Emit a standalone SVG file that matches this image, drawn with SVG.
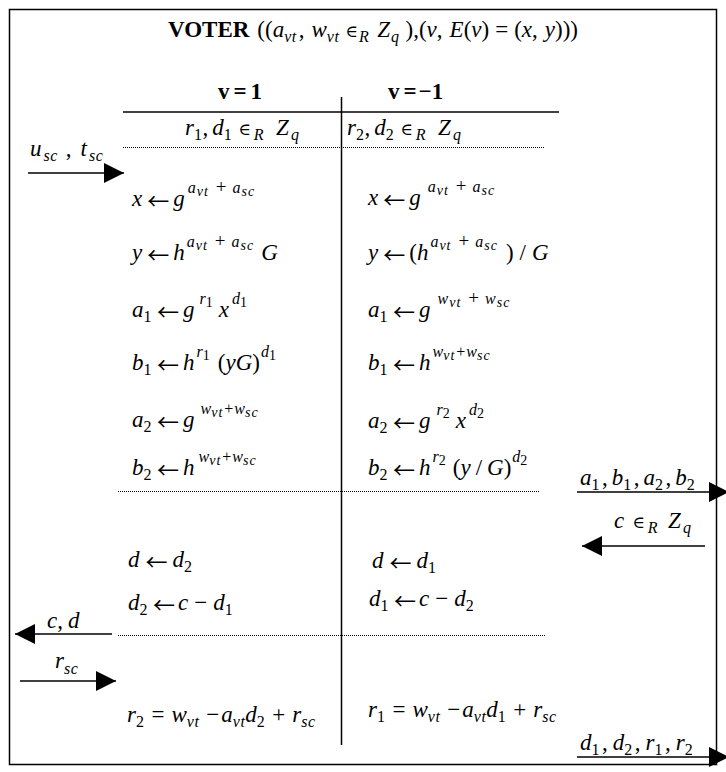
<svg xmlns="http://www.w3.org/2000/svg" width="726" height="772" viewBox="0 0 726 772">
<style>
.m{font-family:"Liberation Serif","Times New Roman",serif;font-size:23px;font-style:italic;fill:#000}
.u{font-style:normal}
.b{font-weight:bold;font-style:normal}
.sp{font-size:16px}
.sb{font-size:16px;letter-spacing:0.5px}
.ss{font-size:14px;letter-spacing:1px}
.op{font-size:19px;font-style:normal}
.a{font-family:"Noto Sans CJK JP","DejaVu Sans",sans-serif;font-style:normal;font-size:22px}
.e{font-family:"DejaVu Serif",serif;font-style:normal;font-size:17px}
.ln{stroke:#000;stroke-width:1.5;fill:none}
.dot{stroke:#000;stroke-width:1;stroke-dasharray:1 1;fill:none}
.ar{stroke:#000;stroke-width:1.5;fill:none;marker-end:url(#ah)}
</style>
<defs>
<marker id="ah" markerUnits="userSpaceOnUse" markerWidth="20" markerHeight="20" viewBox="0 0 20 20" refX="20" refY="10" orient="auto">
<path d="M0,0 L20,10 L0,20 Z" fill="#000"/>
</marker>
</defs>
<rect x="9.5" y="9.5" width="707" height="755" fill="#fff" stroke="#000" stroke-width="1.5"/>

<g id="title">
<text class="m" x="168" y="37"><tspan class="b">VOTER</tspan><tspan class="u" dx="8">((</tspan>a<tspan class="sb" dy="5">vt</tspan><tspan class="u" dx="2" dy="-5">,</tspan><tspan dx="7">w</tspan><tspan class="sb" dy="5">vt</tspan><tspan class="e" dx="6" dy="-5">∈</tspan><tspan class="sb" dx="1" dy="5">R</tspan><tspan dx="8" dy="-5">Z</tspan><tspan class="sb" dx="1" dy="5">q</tspan><tspan class="u" dx="6" dy="-5">),(</tspan>v<tspan class="u">,</tspan><tspan dx="7">E</tspan><tspan class="u">(</tspan>v<tspan class="u">)</tspan><tspan class="u" dx="6">=</tspan><tspan class="u" dx="6">(</tspan>x<tspan class="u">,</tspan><tspan dx="7">y</tspan><tspan class="u">)))</tspan></text>
</g>

<g id="table">
<line class="ln" x1="123" y1="112" x2="559" y2="112"/>
<line class="ln" x1="341.5" y1="97" x2="341.5" y2="745"/>
<line class="dot" x1="123" y1="147.5" x2="545" y2="147.5"/>
<line class="dot" x1="118" y1="491.5" x2="540" y2="491.5"/>
<line class="dot" x1="118" y1="635.5" x2="545" y2="635.5"/>
</g>

<g id="col-v1">
<text class="m b" x="218" y="99">v<tspan dx="4">=</tspan><tspan dx="4">1</tspan></text>
<text class="m" x="185" y="135">r<tspan class="sb u" dy="5">1</tspan><tspan class="u" dy="-5">,</tspan><tspan dx="4">d</tspan><tspan class="sb u" dy="5">1</tspan><tspan class="e" dx="6" dy="-5">∈</tspan><tspan class="sb" dx="3" dy="5">R</tspan><tspan dx="12" dy="-5">Z</tspan><tspan class="sb" dx="2" dy="5">q</tspan></text>
<text class="m" x="132" y="206">x<tspan class="a" dx="5" dy="3">←</tspan><tspan dx="4" dy="-3">g</tspan><tspan class="sp" dx="3" dy="-13">a</tspan><tspan class="ss" dx="1" dy="3">vt</tspan><tspan class="op" dx="7" dy="-3">+</tspan><tspan class="sp" dx="6">a</tspan><tspan class="ss" dx="1" dy="3">sc</tspan></text>
<text class="m" x="132" y="260">y<tspan class="a" dx="5" dy="3">←</tspan><tspan dx="4" dy="-3">h</tspan><tspan class="sp" dx="2" dy="-13">a</tspan><tspan class="ss" dx="1" dy="3">vt</tspan><tspan class="op" dx="7" dy="-3">+</tspan><tspan class="sp" dx="6">a</tspan><tspan class="ss" dx="1" dy="3">sc</tspan><tspan dx="7" dy="10">G</tspan></text>
<text class="m" x="132" y="317">a<tspan class="sb u" dy="5">1</tspan><tspan class="a" dx="5" dy="-2">←</tspan><tspan dx="4" dy="-3">g</tspan><tspan class="sp" dx="5" dy="-13">r</tspan><tspan class="ss u" dy="3">1</tspan><tspan dx="5" dy="10">x</tspan><tspan class="sp" dx="3" dy="-13">d</tspan><tspan class="ss u" dy="3">1</tspan></text>
<text class="m" x="132" y="370">b<tspan class="sb u" dy="5">1</tspan><tspan class="a" dx="5" dy="-2">←</tspan><tspan dx="4" dy="-3">h</tspan><tspan class="sp" dx="2" dy="-13">r</tspan><tspan class="ss u" dy="3">1</tspan><tspan class="u" dx="7" dy="10">(</tspan>yG<tspan class="u">)</tspan><tspan class="sp" dx="1" dy="-13">d</tspan><tspan class="ss u" dy="3">1</tspan></text>
<text class="m" x="132" y="427">a<tspan class="sb u" dy="5">2</tspan><tspan class="a" dx="5" dy="-2">←</tspan><tspan dx="4" dy="-3">g</tspan><tspan class="sp" dx="6" dy="-13">w</tspan><tspan class="ss" dy="3">vt</tspan><tspan class="sp u" dx="1" dy="-3">+</tspan><tspan class="sp" dx="1">w</tspan><tspan class="ss" dy="3">sc</tspan></text>
<text class="m" x="132" y="475">b<tspan class="sb u" dy="5">2</tspan><tspan class="a" dx="5" dy="-2">←</tspan><tspan dx="4" dy="-3">h</tspan><tspan class="sp" dx="4" dy="-13">w</tspan><tspan class="ss" dy="3">vt</tspan><tspan class="sp u" dx="1" dy="-3">+</tspan><tspan class="sp" dx="1">w</tspan><tspan class="ss" dy="3">sc</tspan></text>
<text class="m" x="128" y="567">d<tspan class="a" dx="6" dy="3">←</tspan><tspan dx="5" dy="-3">d</tspan><tspan class="sb u" dy="5">2</tspan></text>
<text class="m" x="128" y="610">d<tspan class="sb u" dy="5">2</tspan><tspan class="a" dx="5" dy="-2">←</tspan><tspan dx="3" dy="-3">c</tspan><tspan class="u" dx="6">−</tspan><tspan dx="6">d</tspan><tspan class="sb u" dy="5">1</tspan></text>
<text class="m" x="127" y="722">r<tspan class="sb u" dy="5">2</tspan><tspan class="u" dx="7" dy="-5">=</tspan><tspan dx="7">w</tspan><tspan class="sb" dy="5">vt</tspan><tspan class="u" dx="7" dy="-5">−</tspan><tspan dx="2">a</tspan><tspan class="sb" dy="5">vt</tspan><tspan dy="-5">d</tspan><tspan class="sb u" dy="5">2</tspan><tspan class="u" dx="7" dy="-5">+</tspan><tspan dx="7">r</tspan><tspan class="sb" dy="5">sc</tspan></text>
</g>

<g id="col-v-1">
<text class="m b" x="388" y="99">v<tspan dx="4">=</tspan><tspan dx="2">−1</tspan></text>
<text class="m" x="347" y="135">r<tspan class="sb u" dy="5">2</tspan><tspan class="u" dy="-5">,</tspan><tspan dx="4">d</tspan><tspan class="sb u" dy="5">2</tspan><tspan class="e" dx="6" dy="-5">∈</tspan><tspan class="sb" dx="3" dy="5">R</tspan><tspan dx="12" dy="-5">Z</tspan><tspan class="sb" dx="2" dy="5">q</tspan></text>
<text class="m" x="368" y="205">x<tspan class="a" dx="5" dy="3">←</tspan><tspan dx="4" dy="-3">g</tspan><tspan class="sp" dx="7" dy="-13">a</tspan><tspan class="ss" dx="1" dy="3">vt</tspan><tspan class="op" dx="7" dy="-3">+</tspan><tspan class="sp" dx="6">a</tspan><tspan class="ss" dx="1" dy="3">sc</tspan></text>
<text class="m" x="368" y="260">y<tspan class="a" dx="5" dy="3">←</tspan><tspan class="u" dx="4" dy="-3">(</tspan>h<tspan class="sp" dx="2" dy="-13">a</tspan><tspan class="ss" dx="1" dy="3">vt</tspan><tspan class="op" dx="7" dy="-3">+</tspan><tspan class="sp" dx="6">a</tspan><tspan class="ss" dx="1" dy="3">sc</tspan><tspan class="u" dx="8" dy="10">)</tspan><tspan class="u" dx="6">/</tspan><tspan dx="6">G</tspan></text>
<text class="m" x="368" y="317">a<tspan class="sb u" dy="5">1</tspan><tspan class="a" dx="5" dy="-2">←</tspan><tspan dx="4" dy="-3">g</tspan><tspan class="sp" dx="7" dy="-13">w</tspan><tspan class="ss" dx="1" dy="3">vt</tspan><tspan class="op" dx="7" dy="-3">+</tspan><tspan class="sp" dx="6">w</tspan><tspan class="ss" dx="1" dy="3">sc</tspan></text>
<text class="m" x="368" y="370">b<tspan class="sb u" dy="5">1</tspan><tspan class="a" dx="5" dy="-2">←</tspan><tspan dx="4" dy="-3">h</tspan><tspan class="sp" dx="2" dy="-13">w</tspan><tspan class="ss" dy="3">vt</tspan><tspan class="sp u" dx="1" dy="-3">+</tspan><tspan class="sp" dx="1">w</tspan><tspan class="ss" dy="3">sc</tspan></text>
<text class="m" x="368" y="428">a<tspan class="sb u" dy="5">2</tspan><tspan class="a" dx="5" dy="-2">←</tspan><tspan dx="4" dy="-3">g</tspan><tspan class="sp" dx="6" dy="-13">r</tspan><tspan class="ss u" dy="3">2</tspan><tspan dx="5" dy="10">x</tspan><tspan class="sp" dx="3" dy="-13">d</tspan><tspan class="ss u" dy="3">2</tspan></text>
<text class="m" x="368" y="475">b<tspan class="sb u" dy="5">2</tspan><tspan class="a" dx="5" dy="-2">←</tspan><tspan dx="4" dy="-3">h</tspan><tspan class="sp" dx="2" dy="-13">r</tspan><tspan class="ss u" dy="3">2</tspan><tspan class="u" dx="6" dy="10">(</tspan>y<tspan class="u" dx="5">/</tspan><tspan dx="5">G</tspan><tspan class="u">)</tspan><tspan class="sp" dx="1" dy="-13">d</tspan><tspan class="ss u" dy="3">2</tspan></text>
<text class="m" x="372" y="568">d<tspan class="a" dx="6" dy="3">←</tspan><tspan dx="5" dy="-3">d</tspan><tspan class="sb u" dy="5">1</tspan></text>
<text class="m" x="369" y="606">d<tspan class="sb u" dy="5">1</tspan><tspan class="a" dx="5" dy="-2">←</tspan><tspan dx="3" dy="-3">c</tspan><tspan class="u" dx="6">−</tspan><tspan dx="6">d</tspan><tspan class="sb u" dy="5">2</tspan></text>
<text class="m" x="368" y="717">r<tspan class="sb u" dy="5">1</tspan><tspan class="u" dx="7" dy="-5">=</tspan><tspan dx="7">w</tspan><tspan class="sb" dy="5">vt</tspan><tspan class="u" dx="7" dy="-5">−</tspan><tspan dx="2">a</tspan><tspan class="sb" dy="5">vt</tspan><tspan dy="-5">d</tspan><tspan class="sb u" dy="5">1</tspan><tspan class="u" dx="7" dy="-5">+</tspan><tspan dx="7">r</tspan><tspan class="sb" dy="5">sc</tspan></text>
</g>

<g id="connectors">
<line class="ar" x1="28" y1="173" x2="124" y2="173"/>
<line class="ar" x1="577" y1="492" x2="729" y2="492"/>
<line class="ar" x1="705" y1="546" x2="582" y2="546"/>
<line class="ar" x1="112" y1="634" x2="15" y2="634"/>
<line class="ar" x1="20" y1="681" x2="116" y2="681"/>
<line class="ar" x1="577" y1="757" x2="729" y2="757"/>
</g>

<g id="labels">
<text class="m" x="30" y="156">u<tspan class="sb" dx="2" dy="5">sc</tspan><tspan class="u" dx="8" dy="-5">,</tspan><tspan dx="9">t</tspan><tspan class="sb" dx="2" dy="5">sc</tspan></text>
<text class="m" x="580" y="485">a<tspan class="sb u" dy="5">1</tspan><tspan class="u" dx="2" dy="-5">,</tspan><tspan dx="4">b</tspan><tspan class="sb u" dy="5">1</tspan><tspan class="u" dx="2" dy="-5">,</tspan><tspan dx="4">a</tspan><tspan class="sb u" dy="5">2</tspan><tspan class="u" dx="2" dy="-5">,</tspan><tspan dx="4">b</tspan><tspan class="sb u" dy="5">2</tspan></text>
<text class="m" x="614" y="528">c<tspan class="e" dx="8">∈</tspan><tspan class="sb" dx="3" dy="5">R</tspan><tspan dx="10" dy="-5">Z</tspan><tspan class="sb" dx="2" dy="5">q</tspan></text>
<text class="m" x="47" y="628">c<tspan class="u">,</tspan><tspan dx="5">d</tspan></text>
<text class="m" x="55" y="668">r<tspan class="sb" dy="6">sc</tspan></text>
<text class="m" x="580" y="750">d<tspan class="sb u" dy="5">1</tspan><tspan class="u" dx="2" dy="-5">,</tspan><tspan dx="5">d</tspan><tspan class="sb u" dy="5">2</tspan><tspan class="u" dx="2" dy="-5">,</tspan><tspan dx="5">r</tspan><tspan class="sb u" dy="5">1</tspan><tspan class="u" dx="2" dy="-5">,</tspan><tspan dx="5">r</tspan><tspan class="sb u" dy="5">2</tspan></text>
</g>
</svg>
